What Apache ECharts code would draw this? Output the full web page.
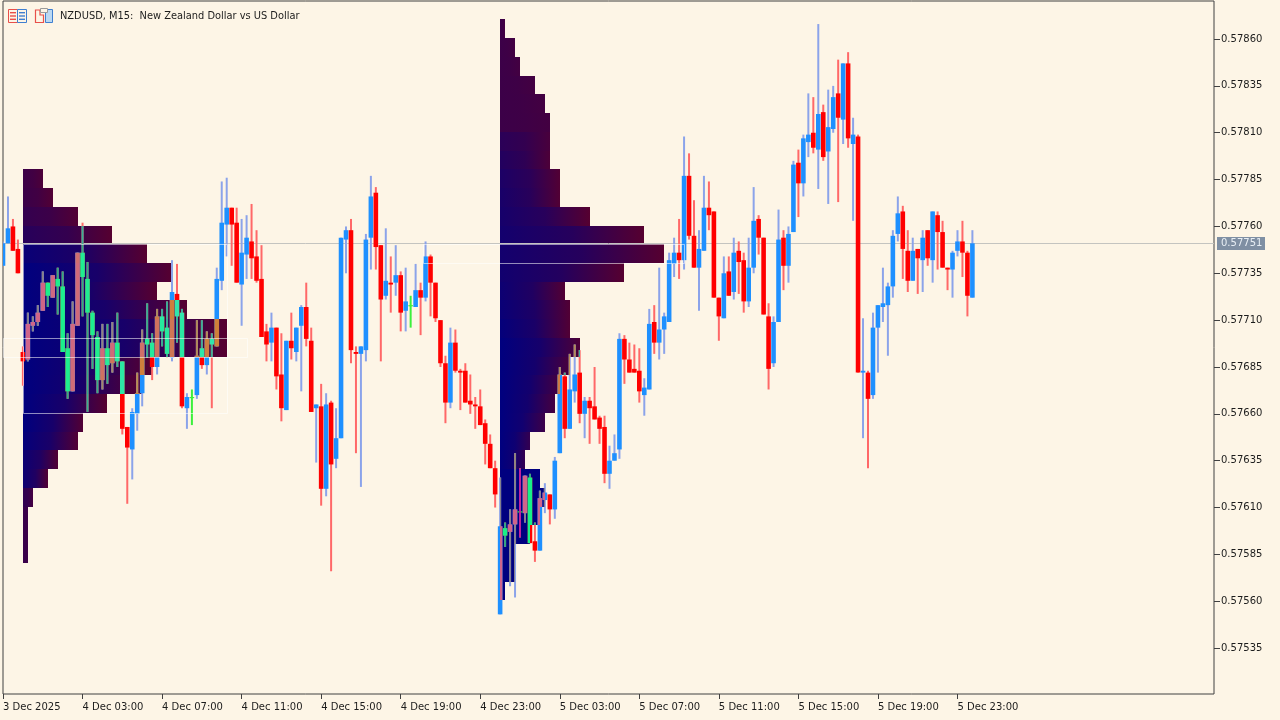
<!DOCTYPE html>
<html>
<head>
<meta charset="utf-8">
<title>NZDUSD M15</title>
<script src="https://cdn.jsdelivr.net/npm/echarts@6/dist/echarts.min.js"></script>
<style>
html,body{margin:0;padding:0;background:#FDF5E6}
#chart{width:1280px;height:720px;filter:blur(0.4px)}
</style>
</head>
<body>
<div id="chart"></div>
<script>
// prices are stored as points above 0.57000 (1 point = 0.00001)
const openPts = [
739,751,760,748,693,689,707,709,715,730,
722,732,728,695,672,707,746,732,714,701,
678,695,687,698,688,653,641,660,671,700,
698,685,712,706,690,724,714,663,669,670,
695,686,700,696,731,761,770,762,729,745,
752,744,732,704,698,706,681,662,699,693,
707,717,699,663,664,620,666,636,647,753,
758,693,692,694,754,778,750,723,730,730,
734,715,718,717,726,722,744,730,710,687,
666,698,683,683,667,665,664,655,644,631,
553,599,597,601,608,607,626,592,587,614,
617,609,639,680,652,672,682,660,667,664,
658,653,628,635,641,700,689,684,683,670,
673,709,698,705,709,740,746,742,787,755,
738,747,770,768,722,711,736,725,747,742,
720,738,764,754,712,687,709,754,739,757,
794,783,805,810,801,821,800,812,831,817,
847,804,808,682,682,670,706,717,718,728,
756,768,747,731,748,742,758,742,766,757,
738,737,747,752,746,722];
const highPts = [
752,776,764,753,696,714,712,718,736,730,
734,738,736,703,720,746,762,741,715,704,
708,708,709,714,688,653,663,682,705,719,
703,716,716,720,742,740,716,671,673,710,
710,704,703,738,784,786,770,770,764,766,
772,758,750,708,714,706,703,699,714,706,
718,730,706,665,676,671,667,663,754,760,
764,696,696,756,787,781,750,759,744,750,
736,738,723,740,730,752,745,730,710,691,
706,705,684,687,681,669,673,657,649,635,
626,602,609,639,631,627,628,602,619,623,
617,637,685,682,692,697,694,669,669,685,
659,659,643,649,703,702,698,697,695,679,
716,718,738,714,746,754,764,808,799,774,
758,787,784,768,722,744,744,754,752,746,
754,781,766,754,719,712,769,758,760,795,
801,809,831,829,868,825,833,835,849,847,
853,818,809,711,683,714,718,738,730,758,
776,771,758,754,748,758,758,768,768,763,
738,747,758,763,747,758];
const lowPts = [
739,751,747,735,675,688,704,707,715,717,
722,713,693,668,672,707,712,661,684,671,
673,676,682,685,649,612,625,651,664,690,
678,681,696,690,688,698,663,652,654,668,
684,681,663,696,726,744,739,730,707,732,
732,730,701,688,688,673,656,662,689,688,
672,696,661,634,611,616,576,631,647,735,
687,639,621,688,737,737,688,721,714,723,
704,704,706,717,702,720,712,709,685,655,
663,682,662,666,660,652,654,633,631,610,
553,589,568,562,594,602,591,581,587,607,
601,604,639,647,652,666,655,647,644,657,
644,623,620,635,636,676,682,682,666,659,
673,692,689,692,709,733,732,737,753,738,
715,747,758,722,699,711,723,721,724,714,
717,735,745,713,673,685,709,726,730,757,
765,776,797,799,780,795,772,810,773,804,
802,763,682,647,631,668,682,709,691,722,
752,732,725,731,724,725,739,730,737,738,
726,722,744,733,712,722];
const closePts = [
751,759,747,735,688,708,709,714,730,723,
734,728,693,672,708,746,733,714,702,678,
695,686,698,688,652,642,661,671,698,697,
685,712,704,692,725,712,664,669,669,691,
686,700,697,732,762,770,761,730,746,754,
743,731,701,697,706,680,663,699,695,706,
717,700,661,665,620,665,633,647,754,758,
694,692,696,753,776,749,721,731,729,734,
714,720,718,726,722,744,730,711,687,666,
698,683,682,666,665,664,654,644,631,617,
600,595,601,609,608,627,591,587,615,618,
609,635,681,652,673,681,660,667,663,657,
652,628,635,639,700,689,682,682,672,674,
708,698,705,712,742,746,742,787,755,738,
748,770,766,722,712,735,723,746,741,720,
738,763,754,713,684,709,753,739,756,793,
783,807,809,802,820,797,813,829,818,847,
807,809,682,683,668,706,718,719,728,755,
767,748,731,747,743,754,743,768,757,738,
737,746,752,746,723,751];

const priceTicks = [0.57860,0.57835,0.57810,0.57785,0.57760,0.57735,0.57710,0.57685,0.57660,0.57635,0.57610,0.57585,0.57560,0.57535];
const timeTickBars = [0,16,32,48,64,80,96,112,128,144,160,176,192];
const timeTickLabels = ['3 Dec 2025','4 Dec 03:00','4 Dec 07:00','4 Dec 11:00','4 Dec 15:00','4 Dec 19:00','4 Dec 23:00','5 Dec 03:00','5 Dec 07:00','5 Dec 11:00','5 Dec 15:00','5 Dec 19:00','5 Dec 23:00'];
const lastPrice = 0.57751;

// volume profiles: session start bar, top price (points), volume per 10-point bin, top to bottom
const session1Start = 4;
const session1Top = 790.5;
const session1Volumes = [4,6,11,18,25,30,27,33,41,41,26,24,17,12,11,7,5,2,1,1,1];
const session1LeftShare = [.3,.32,.4,.55,.9,1,1,1,1,1,1,1,1,1,.95,.85,.85,.45,.35,.35,.35];
const session1RightShare = [.1,.05,.05,0,0,0,0,0,0,0,0,0,0,.05,.05,.05,.05,.2,.3,.3,.3];
const session2Start = 100;
const session2Top = 870.5;
const session2Volumes = [1,3,4,7,9,10,10,10,12,12,18,29,33,25,13,14,14,16,14,12,11,9,6,5,8,9,8,6,3,3,1];
const session2LeftShare = [.3,.3,.3,.3,.3,.3,.5,.6,.68,.72,.75,.78,.78,.8,.85,.9,.95,1,1,1,1,1,1,1,1,1,1,1,1,1,1];
const session2RightShare = [.22,.22,.22,.22,.22,.22,.15,.1,.05,.05,0,0,0,0,.05,.05,.05,.1,.15,.2,.2,.3,.4,.4,1,1,1,1,1,1,1];

// session boxes: from bar, to bar, top points, bottom points
const sessionBoxes = [[4,45,750.5,660.5],[0,49,700.5,690.5],[84.4,137,750.5,740.5]];

const price = p => 0.57 + p / 100000;
const NAVY = '#00007f', MAROON = '#560030';
const mixColor = s => echarts.color.lerp(s, [MAROON, NAVY]);

const bins = [];
function addSession(start, top, vols, left, right) {
  vols.forEach((v, k) => bins.push({start, vol: v, top: price(top - k * 10), bottom: price(top - (k + 1) * 10), left: left[k], right: right[k]}));
}
addSession(session1Start, session1Top, session1Volumes, session1LeftShare, session1RightShare);
addSession(session2Start, session2Top, session2Volumes, session2LeftShare, session2RightShare);

const midShare = b => b.left * .72 + b.right * .28;
const binShare = (b, t) => t < .5 ? b.left + (midShare(b) - b.left) * (t / .5)
                                  : midShare(b) + (b.right - midShare(b)) * ((t - .5) / .5);

const candleData = openPts.map((o, i) => [i, price(o), price(highPts[i]), price(lowPts[i]), price(closePts[i])]);

function intersect(a, b) {
  const x = Math.max(a.x, b.x), y = Math.max(a.y, b.y);
  const x2 = Math.min(a.x + a.width, b.x + b.width), y2 = Math.min(a.y + a.height, b.y + b.height);
  return (x2 > x && y2 > y) ? {x, y, width: x2 - x, height: y2 - y} : null;
}

function binRect(api, b) {
  const p0 = api.coord([b.start, b.top]), p1 = api.coord([b.start + b.vol, b.bottom]);
  const x = Math.round(p0[0]), y = Math.round(p0[1]);
  return {x, y, width: Math.round(p1[0]) - x, height: Math.round(p1[1]) - y};
}

function renderCandle(params, api) {
  const i = api.value(0), o = api.value(1), h = api.value(2), l = api.value(3), c = api.value(4);
  const x = api.coord([i, o])[0];
  const yOf = v => api.coord([i, v])[1];
  const bull = c > o, doji = Math.abs(c - o) < 1e-7;
  const wick = {x: x - 1, y: yOf(h), width: 2, height: Math.max(1, yOf(l) - yOf(h))};
  const bodyTop = yOf(Math.max(o, c));
  const body = {x: x - 2.3, y: bodyTop, width: 4.6, height: Math.max(1.6, yOf(Math.min(o, c)) - bodyTop)};
  const wickCol = doji ? '#3cf03c' : bull ? '#8ba3ea' : '#ff6868';
  const bodyCol = doji ? '#3cf03c' : bull ? '#1e90ff' : '#ff0000';
  const children = [
    {type: 'rect', shape: wick, style: {fill: wickCol}},
    {type: 'rect', shape: doji ? {x: x - 2.3, y: body.y, width: 4.6, height: 1.2} : body, style: {fill: bodyCol}}
  ];
  bins.forEach(b => {
    const r = binRect(api, b);
    const seg = (rect, isBody) => {
      const cut = intersect(rect, r);
      if (!cut) return;
      const s = binShare(b, (x - r.x) / r.width);
      let col;
      if (doji) col = '#c0209a';
      else if (bull) col = isBody ? echarts.color.lerp(s, ['#cf8232', '#d0648c']) : echarts.color.lerp(s, ['#c08c48', '#84808e']);
      else col = isBody ? echarts.color.lerp(s, ['#34e4b0', '#18f088']) : echarts.color.lerp(s, ['#3fae9c', '#2ea884']);
      children.push({type: 'rect', shape: cut, style: {fill: col}});
    };
    seg(wick, false);
    if (!doji) seg(body, true);
  });
  return {type: 'group', children};
}

function renderBin(params, api) {
  const b = bins[params.dataIndex];
  return {
    type: 'rect',
    shape: binRect(api, b),
    style: {fill: new echarts.graphic.LinearGradient(0, 0, 1, 0, [
      {offset: 0, color: mixColor(b.left)},
      {offset: .5, color: mixColor(midShare(b))},
      {offset: 1, color: mixColor(b.right)}
    ])}
  };
}

function renderBox(params, api) {
  const p0 = api.coord([api.value(0), price(api.value(2))]);
  const p1 = api.coord([api.value(1), price(api.value(3))]);
  return {
    type: 'rect',
    shape: {x: Math.round(p0[0]) + .5, y: Math.round(p0[1]) + .5, width: Math.round(p1[0] - p0[0]), height: Math.round(p1[1] - p0[1])},
    style: {fill: 'none', stroke: '#ffffff', lineWidth: 1, opacity: .55}
  };
}

function renderLast(params, api) {
  const a = api.coord([api.value(0), api.value(2)]);
  const b = api.coord([api.value(1), api.value(2)]);
  const y = Math.round(a[1]) + .5;
  return {type: 'group', children: [
    {type: 'line', shape: {x1: a[0], y1: y, x2: b[0], y2: y}, style: {stroke: '#c4c4c0', lineWidth: 1}},
    {type: 'rect', shape: {x: b[0] + 3, y: y - 6.5, width: 48, height: 13}, style: {fill: '#7f8fa3'}},
    {type: 'text', style: {x: b[0] + 7, y: y, text: lastPrice.toFixed(5), fill: '#e8eef4', font: '10px "DejaVu Sans"', textVerticalAlign: 'middle', verticalAlign: 'middle'}}
  ]};
}

const FONT = '"DejaVu Sans"';
const INK = '#1c1c1c';
const chart = echarts.init(document.getElementById('chart'), null, {renderer: 'canvas'});
chart.setOption({
  animation: false,
  backgroundColor: '#FDF5E6',
  title: {
    text: 'NZDUSD, M15:  New Zealand Dollar vs US Dollar',
    left: 60, top: 11, padding: 0,
    textStyle: {fontFamily: FONT, fontSize: 9.85, fontWeight: 'normal', color: INK}
  },
  grid: {left: 2, top: 1, width: 1212, height: 693, show: true, borderColor: '#404040', borderWidth: 1, backgroundColor: 'transparent'},
  xAxis: {
    type: 'value', min: 0, max: 243.6, splitLine: {show: false},
    axisLine: {show: false, onZero: false},
    axisTick: {show: true, length: 5, lineStyle: {color: '#404040'}, customValues: timeTickBars},
    axisLabel: {
      show: true, customValues: timeTickBars, margin: 8, align: 'left',
      fontFamily: FONT, fontSize: 10, color: INK,
      formatter: v => timeTickLabels[timeTickBars.indexOf(v)] || ''
    }
  },
  yAxis: {
    type: 'value', position: 'right', min: 0.575105, max: 0.578803, scale: true, splitLine: {show: false},
    axisLine: {show: false, onZero: false},
    axisTick: {show: true, length: 6, lineStyle: {color: '#404040'}, customValues: priceTicks},
    axisLabel: {
      show: true, customValues: priceTicks, margin: 7,
      fontFamily: FONT, fontSize: 10, color: INK,
      formatter: v => v.toFixed(5)
    }
  },
  series: [
    {type: 'custom', name: 'profile', z: 1, clip: true, silent: true, data: bins.map(b => [b.start, b.vol, b.top, b.bottom]), encode: {x: [0, 1], y: [2, 3]}, renderItem: renderBin},
    {type: 'custom', name: 'last', z: 2, clip: false, silent: true, data: [[0, 243.6, lastPrice]], encode: {x: [0, 1], y: 2}, renderItem: renderLast},
    {type: 'custom', name: 'candles', z: 3, clip: true, silent: true, data: candleData, encode: {x: 0, y: [1, 2, 3, 4]}, renderItem: renderCandle},
    {type: 'custom', name: 'boxes', z: 4, clip: true, silent: true, data: sessionBoxes, encode: {x: [0, 1]}, renderItem: renderBox}
  ],
  graphic: [
    {type: 'group', silent: true, children: [
      {type: 'rect', shape: {x: 8.5, y: 9.5, width: 9, height: 13}, style: {fill: '#fdf5e6', stroke: '#e8504a', lineWidth: 1}},
      {type: 'rect', shape: {x: 17.5, y: 9.5, width: 9, height: 13}, style: {fill: '#fdf5e6', stroke: '#3f7fd0', lineWidth: 1}},
      {type: 'rect', shape: {x: 10, y: 12, width: 6, height: 1.4}, style: {fill: '#e8504a'}},
      {type: 'rect', shape: {x: 10, y: 15.3, width: 6, height: 1.4}, style: {fill: '#e8504a'}},
      {type: 'rect', shape: {x: 10, y: 18.6, width: 6, height: 1.4}, style: {fill: '#e8504a'}},
      {type: 'rect', shape: {x: 19, y: 12, width: 6, height: 1.4}, style: {fill: '#3f7fd0'}},
      {type: 'rect', shape: {x: 19, y: 15.3, width: 6, height: 1.4}, style: {fill: '#3f7fd0'}},
      {type: 'rect', shape: {x: 19, y: 18.6, width: 6, height: 1.4}, style: {fill: '#3f7fd0'}},
      {type: 'polyline', shape: {points: [[42.5, 10], [35.5, 10], [35.5, 22.5], [43.5, 22.5], [43.5, 15], [40, 15], [40, 10]]}, style: {fill: 'none', stroke: '#e8504a', lineWidth: 1.2}},
      {type: 'rect', shape: {x: 45.5, y: 9.5, width: 7, height: 13}, style: {fill: '#bcd9f2', stroke: '#3f7fd0', lineWidth: 1}},
      {type: 'rect', shape: {x: 40.5, y: 8.5, width: 7, height: 4}, style: {fill: '#fdf5e6', stroke: '#9a9a9a', lineWidth: 1}}
    ]}
  ]
});
</script>
</body>
</html>
